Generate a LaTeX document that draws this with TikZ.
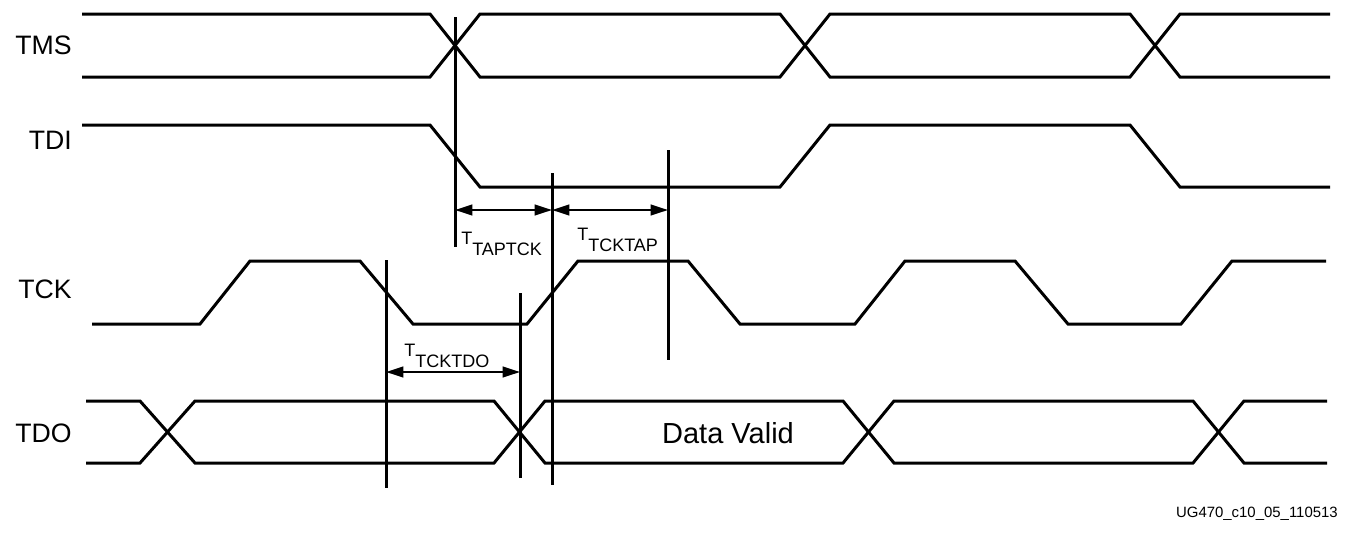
\documentclass[tikz,border=0pt]{standalone}
\usepackage{fontspec}
\setmainfont{Liberation Sans}
\usetikzlibrary{arrows.meta}
\begin{document}
\begin{tikzpicture}[x=0.75pt,y=-0.75pt,
  wave/.style={line width=2.25pt,line join=miter},
  marker/.style={line width=2.25pt},
  span/.style={line width=1.5pt,{Triangle[length=13pt,width=8pt]}-{Triangle[length=13pt,width=8pt]}},
  sig/.style={font=\fontsize{20pt}{20pt}\selectfont,inner sep=0pt,anchor=base east},
  tlabel/.style={font=\fontsize{13.5pt}{13.5pt}\selectfont,inner sep=0pt,anchor=base west}]
\useasboundingbox (0,0) rectangle (1352,532);

% signal names
\node[sig] (tms) at (72,54) {TMS};
\node[sig] (tdi) at (72,149) {TDI};
\node[sig] (tck) at (72,298) {TCK};
\node[sig] (tdo) at (72,442) {TDO};

% TMS bus
\draw[wave] (82,14) -- (430,14) -- (480,77) -- (780,77) -- (830,14) -- (1130,14) -- (1180,77) -- (1330,77);
\draw[wave] (82,77) -- (430,77) -- (480,14) -- (780,14) -- (830,77) -- (1130,77) -- (1180,14) -- (1330,14);

% TDI
\draw[wave] (82,125) -- (430,125) -- (480,187) -- (780,187) -- (830,125) -- (1130,125) -- (1180,187) -- (1330,187);

% TCK
\draw[wave] (92,324) -- (200,324) -- (250,261) -- (360,261) -- (413,324) -- (527,324) -- (578,261)
  -- (688,261) -- (740,324) -- (855,324) -- (905,261) -- (1015,261) -- (1068,324) -- (1181,324)
  -- (1232,261) -- (1326,261);

% TDO bus
\draw[wave] (86,401) -- (140,401) -- (195,463) -- (494,463) -- (545,401) -- (843,401) -- (894,463) -- (1193,463) -- (1244,401) -- (1327,401);
\draw[wave] (86,463) -- (140,463) -- (195,401) -- (494,401) -- (545,463) -- (843,463) -- (894,401) -- (1193,401) -- (1244,463) -- (1327,463);
\node[font=\fontsize{21.75pt}{21.75pt}\selectfont,inner sep=0pt,anchor=base] (valid) at (728,443) {Data Valid};

% timing markers
\coordinate (m1t) at (455,17);  \coordinate (m1b) at (455,247);
\coordinate (m2t) at (552,173); \coordinate (m2b) at (552,485);
\coordinate (m3t) at (668,150); \coordinate (m3b) at (668,360);
\coordinate (m4t) at (386,260); \coordinate (m4b) at (386,488);
\coordinate (m5t) at (520,293); \coordinate (m5b) at (520,478);
\draw[marker] (m1t) -- (m1b);
\draw[marker] (m2t) -- (m2b);
\draw[marker] (m3t) -- (m3b);
\draw[marker] (m4t) -- (m4b);
\draw[marker] (m5t) -- (m5b);

% timing spans
\coordinate (a1) at (455,210); \coordinate (a2) at (552,210); \coordinate (a3) at (668,210);
\coordinate (b1) at (386,372); \coordinate (b2) at (520,372);
\draw[span] (a1) -- (a2);
\draw[span] (a2) -- (a3);
\draw[span] (b1) -- (b2);

\node[tlabel] (taptck) at (461,244) {T\raisebox{-8.25pt}{TAPTCK}};
\node[tlabel] (tcktap) at (577,240) {T\raisebox{-8.25pt}{TCKTAP}};
\node[tlabel] (tcktdo) at (404,356) {T\raisebox{-8.25pt}{TCKTDO}};

\node[font=\fontsize{11.2pt}{11.2pt}\selectfont,inner sep=0pt,anchor=base east] (docid) at (1338,517) {UG470\_c10\_05\_110513};
\end{tikzpicture}
\end{document}
